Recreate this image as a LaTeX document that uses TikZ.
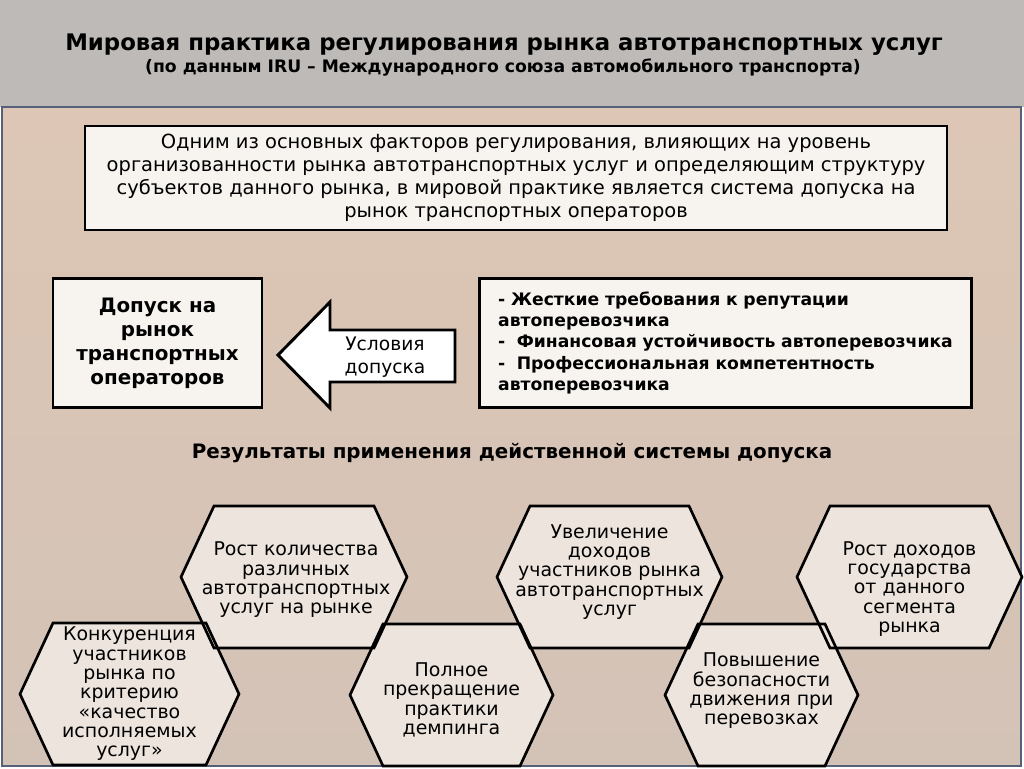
\documentclass[tikz,border=0pt]{standalone}
\usepackage{fontspec}
\setmainfont{DejaVu Sans}
\definecolor{headgray}{HTML}{BDBAB8}
\definecolor{bgtop}{HTML}{DDC6B5}
\definecolor{bgbottom}{HTML}{D3C3B6}
\definecolor{framecol}{HTML}{56607A}
\definecolor{boxfill}{HTML}{F7F3EF}
\definecolor{hexfill}{HTML}{EDE5DD}
\begin{document}
\begin{tikzpicture}
        [
            x=0.75pt, y=-0.75pt,
            box/.style={draw=black, line width=2.2pt, fill=boxfill},
            hexline/.style={draw=black, line width=2pt, line join=miter},
            hextext/.style={align=center, inner sep=0pt, font=\fontsize{14.2}{14.5}\selectfont},
        ]
        \useasboundingbox (0,0) rectangle (1024,768);
        % background
        \fill[headgray] (0,0) rectangle (1024,107);
        \shade[top color=bgtop, bottom color=bgbottom] (2,107) rectangle (1021,766);
        \draw[framecol, line width=1.6pt] (2,107) rectangle (1021,766);

        % title
        \node[font=\bfseries\fontsize{17.1}{20}\selectfont] (title) at (504,45)
            {Мировая практика регулирования рынка автотранспортных услуг};
        \node[font=\bfseries\fontsize{12.9}{15}\selectfont] (subtitle) at (503,68)
            {(по данным IRU -- Международного союза автомобильного транспорта)};

        % top box
        \node[box, minimum width=646.5pt, minimum height=78pt, align=center,
            font=\fontsize{14.6}{17.25}\selectfont] (factors) at (516,178)
            {Одним из основных факторов регулирования, влияющих на уровень\\
             организованности рынка автотранспортных услуг и определяющим структуру\\
             субъектов данного рынка, в мировой практике является система допуска на\\
             рынок транспортных операторов};

        % admission
        \node[box, minimum width=156.75pt, minimum height=96.75pt, align=center,
            font=\bfseries\fontsize{14.9}{18}\selectfont] (dopusk) at (157.5,343)
            {Допуск на\\ рынок\\ транспортных\\ операторов};
        \filldraw[box, fill=white, line join=miter] (278,355) -- (330,302) -- (330,330) -- (455,330)
            -- (455,382) -- (330,382) -- (330,408) -- cycle;
        \node[align=center, font=\fontsize{14}{17.25}\selectfont] (usloviya) at (385,357)
            {Условия\\ допуска};
        \node[box, minimum width=369pt, minimum height=96.75pt, inner xsep=14pt,
            text width=341pt, align=left, font=\bfseries\fontsize{12.9}{15.6}\selectfont] (trebovaniya) at (725.5,343)
            {- Жесткие требования к репутации\\ автоперевозчика\\
             -\ \ Финансовая устойчивость автоперевозчика\\[1.5pt]
             -\ \ Профессиональная компетентность\\ автоперевозчика};

        % results
        \node[font=\bfseries\fontsize{14.9}{18}\selectfont] (rezultaty) at (512,453)
            {Результаты применения действенной системы допуска};

        % hexagons: fill first, then outlines
        \foreach \cx/\cy/\w in {294/577/113, 609.5/577/112.5, 909.5/577/112.5,
                                129.5/694/109.5, 451.5/695/101.5, 761.5/695/96.5}
        {
            \fill[hexfill] (\cx-\w,\cy) -- (\cx-\w+33,\cy-71) -- (\cx+\w-33,\cy-71)
                -- (\cx+\w,\cy) -- (\cx+\w-33,\cy+71) -- (\cx-\w+33,\cy+71) -- cycle;
        }
        \foreach \cx/\cy/\w in {294/577/113, 609.5/577/112.5, 909.5/577/112.5,
                                129.5/694/109.5, 451.5/695/101.5, 761.5/695/96.5}
        {
            \draw[hexline] (\cx-\w,\cy) -- (\cx-\w+33,\cy-71) -- (\cx+\w-33,\cy-71)
                -- (\cx+\w,\cy) -- (\cx+\w-33,\cy+71) -- (\cx-\w+33,\cy+71) -- cycle;
        }
        \node[hextext] (kolichestvo) at (296,580)
            {Рост количества\\ различных\\ автотранспортных\\ услуг на рынке};
        \node[hextext] (dokhody) at (609.5,572)
            {Увеличение\\ доходов\\ участников рынка\\ автотранспортных\\ услуг};
        \node[hextext] (gosudarstvo) at (909.5,589)
            {Рост доходов\\ государства\\ от данного\\ сегмента\\ рынка};
        \node[hextext] (konkurenciya) at (129.5,694)
            {Конкуренция\\ участников\\ рынка по\\ критерию\\ «качество\\ исполняемых\\ услуг»};
        \node[hextext] (demping) at (451.5,700)
            {Полное\\ прекращение\\ практики\\ демпинга};
        \node[hextext] (bezopasnost) at (761.5,691)
            {Повышение\\ безопасности\\ движения при\\ перевозках};
\end{tikzpicture}
\end{document}
